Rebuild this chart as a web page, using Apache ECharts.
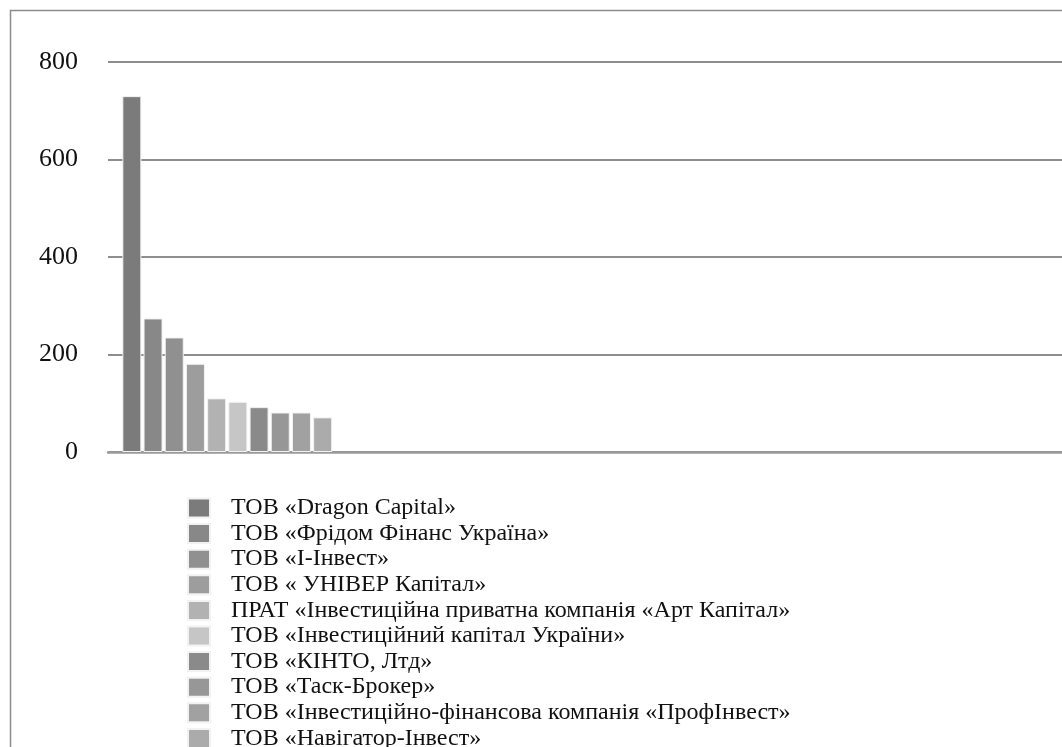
<!DOCTYPE html>
<html>
<head>
<meta charset="utf-8">
<script src="https://cdn.jsdelivr.net/npm/echarts@6/dist/echarts.min.js"></script>
<style>
html,body{margin:0;padding:0;background:#fff;}
#chart{width:1062px;height:747px;}
</style>
</head>
<body>
<div id="chart"></div>
<script>
const companies = [
  'ТОВ «Dragon Capital»',
  'ТОВ «Фрідом Фінанс Україна»',
  'ТОВ «І-Інвест»',
  'ТОВ « УНІВЕР Капітал»',
  'ПРАТ «Інвестиційна приватна компанія «Арт Капітал»',
  'ТОВ «Інвестиційний капітал України»',
  'ТОВ «КІНТО, Лтд»',
  'ТОВ «Таск-Брокер»',
  'ТОВ «Інвестиційно-фінансова компанія «ПрофІнвест»',
  'ТОВ «Навігатор-Інвест»'
];
const values = [730, 274, 235, 181, 110, 103, 92, 81, 81, 71];
const colors = ['#7b7b7b', '#888888', '#909090', '#9d9d9d', '#b2b2b2', '#c6c6c6', '#8a8a8a', '#979797', '#a1a1a1', '#ababab'];
const categories = ['', '', '', ''];
const yTicks = { min: 0, max: 800, interval: 200 };

const series = companies.map((name, i) => ({
  name: name,
  type: 'bar',
  barWidth: 19,
  barGap: '11.6%',
  data: [values[i], '-', '-', '-'],
  itemStyle: { color: colors[i], borderColor: '#f2f2f2', borderWidth: 1 }
}));

const chart = echarts.init(document.getElementById('chart'), null, { renderer: 'canvas' });
chart.setOption({
  animation: false,
  backgroundColor: '#ffffff',
  graphic: [{
    type: 'rect',
    left: 8, top: 8,
    shape: { x: 0, y: 0, width: 1200, height: 900 },
    style: { fill: 'none', stroke: '#8c8c8c', lineWidth: 1.5 },
    silent: true
  }],
  grid: { left: 108, top: 62, bottom: 295, right: -16, containLabel: false },
  xAxis: {
    type: 'category',
    data: categories,
    axisLine: { show: true, lineStyle: { color: '#9a9a9a', width: 2.5 } },
    axisTick: { show: false },
    axisLabel: { show: false },
    splitLine: { show: false }
  },
  yAxis: {
    type: 'value',
    min: yTicks.min, max: yTicks.max, interval: yTicks.interval,
    axisLine: { show: false },
    axisTick: { show: false },
    axisLabel: {
      margin: 30,
      color: '#111',
      fontFamily: 'Liberation Serif',
      fontSize: 26
    },
    splitLine: { show: true, lineStyle: { color: '#8e8e8e', width: 2 } }
  },
  legend: {
    orient: 'vertical',
    left: 187,
    top: 496,
    height: 400,
    padding: 0,
    icon: 'rect',
    itemWidth: 22,
    itemHeight: 19,
    itemGap: 1.6,
    selectedMode: false,
    textStyle: {
      fontFamily: 'Liberation Serif',
      fontSize: 24,
      lineHeight: 24,
      color: '#111',
      padding: [0, 0, 0, 16]
    },
    data: companies
  },
  series: series
});
</script>
</body>
</html>
